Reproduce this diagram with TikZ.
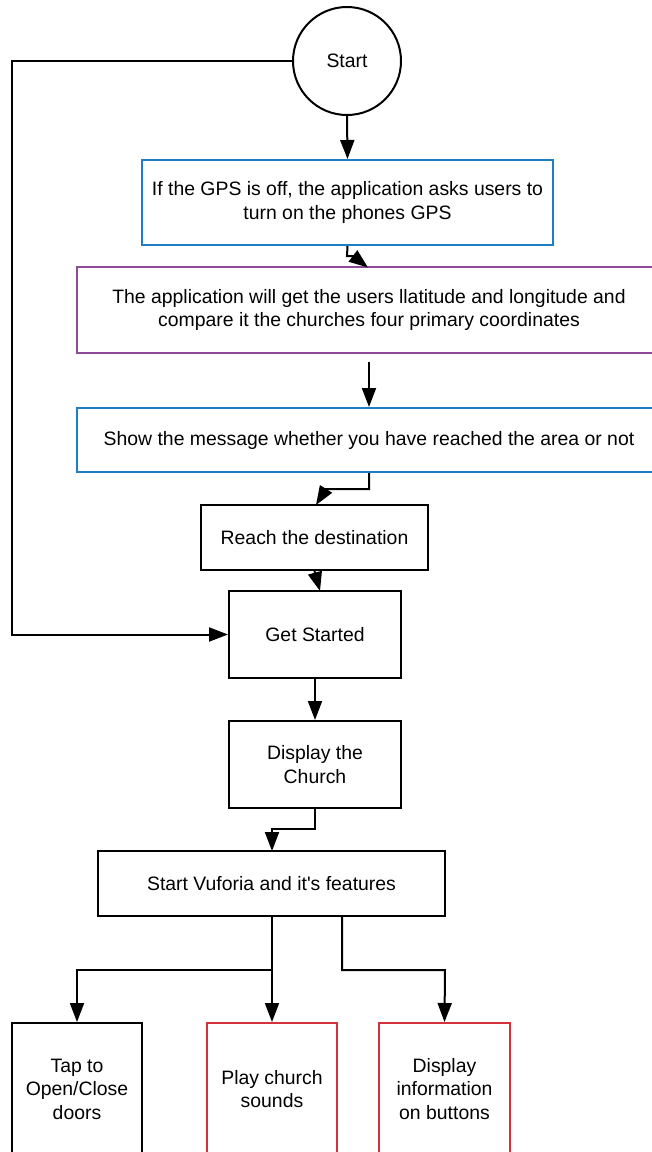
\documentclass[tikz,border=0pt]{standalone}
\usepackage{fontspec}
\setmainfont{Liberation Sans}
\usetikzlibrary{arrows.meta}
\definecolor{bblue}{HTML}{1F7EC1}
\definecolor{bpurple}{HTML}{8E4B97}
\definecolor{bred}{HTML}{D5303E}
\tikzset{
  box/.style={draw=black, line width=2pt, rectangle, align=center, inner sep=0pt,
    font=\fontsize{19.4}{23.5}\selectfont},
  arr/.style={line width=2pt, -{Triangle[length=19pt,width=14pt]}},
}
\begin{document}
\begin{tikzpicture}[x=1pt,y=-1pt]
\useasboundingbox (0,0) rectangle (652,1152);
\fill[white] (0,0) rectangle (652,1152);
\node[box, circle, minimum size=108pt] (start) at (347,61) {Start};
\node[box, draw=bblue, minimum width=411pt, minimum height=85pt] (gps) at (347.5,202.5)
  {If the GPS is off, the application asks users to\\turn on the phones GPS};
\node[box, draw=bpurple, minimum width=584pt, minimum height=86pt] (cmp) at (369,310)
  {The application will get the users llatitude and longitude and\\compare it the churches four primary coordinates};
\node[box, draw=bblue, minimum width=584pt, minimum height=64pt] (msg) at (369,440)
  {Show the message whether you have reached the area or not};
\node[box, minimum width=227pt, minimum height=65pt] (reach) at (314.5,537.5) {Reach the destination};
\node[box, minimum width=172pt, minimum height=87pt] (gs) at (315,634.5) {Get Started};
\node[box, minimum width=172pt, minimum height=87pt] (disp) at (315,764.5) {Display the\\Church};
\node[box, minimum width=347pt, minimum height=65pt] (vuf) at (271.5,883.5) {Start Vuforia and it\textquotesingle s features};
\node[box, minimum width=130pt, minimum height=132pt] (tap) at (77,1089) {Tap to\\Open/Close\\doors};
\node[box, draw=bred, minimum width=130pt, minimum height=132pt] (play) at (272,1089) {Play church\\sounds};
\node[box, draw=bred, minimum width=131pt, minimum height=132pt] (info) at (444.5,1089) {Display\\information\\on buttons};

\coordinate (lc) at (12,61);
\draw[arr] (start.west) -- (lc) |- (gs.west);
\draw[arr] (start.south) -- (gps.north);
\coordinate (g1) at (347,256);
\coordinate (g2) at (353,256);
\draw[arr] (gps.south) -- (g1) -- (g2) -- (368,267.5);
\coordinate (c1) at (369,362);
\draw[arr] (c1) -- (msg.north);
\coordinate (m1) at (369,489);
\coordinate (m2) at (326,489);
\draw[arr] (msg.south) -- (m1) -- (m2) -- (316,505);
\draw[arr] (reach.south) -- (320,591);
\draw[arr] (gs.south) -- (disp.north);
\coordinate (d1) at (315,829);
\coordinate (d2) at (272,829);
\draw[arr] (disp.south) -- (d1) -- (d2) -- (272,851);
\coordinate (v1) at (272,970);
\coordinate (v2) at (77,970);
\coordinate (v3) at (342,916);
\coordinate (v4) at (342,970);
\coordinate (v5) at (445,970);
\draw[arr] (v1 |- vuf.south) -- (play.north);
\draw[arr] (v1) -- (v2) -- (tap.north);
\draw[arr] (v3) -- (v4) -- (v5) -- (info.north);
\end{tikzpicture}
\end{document}
